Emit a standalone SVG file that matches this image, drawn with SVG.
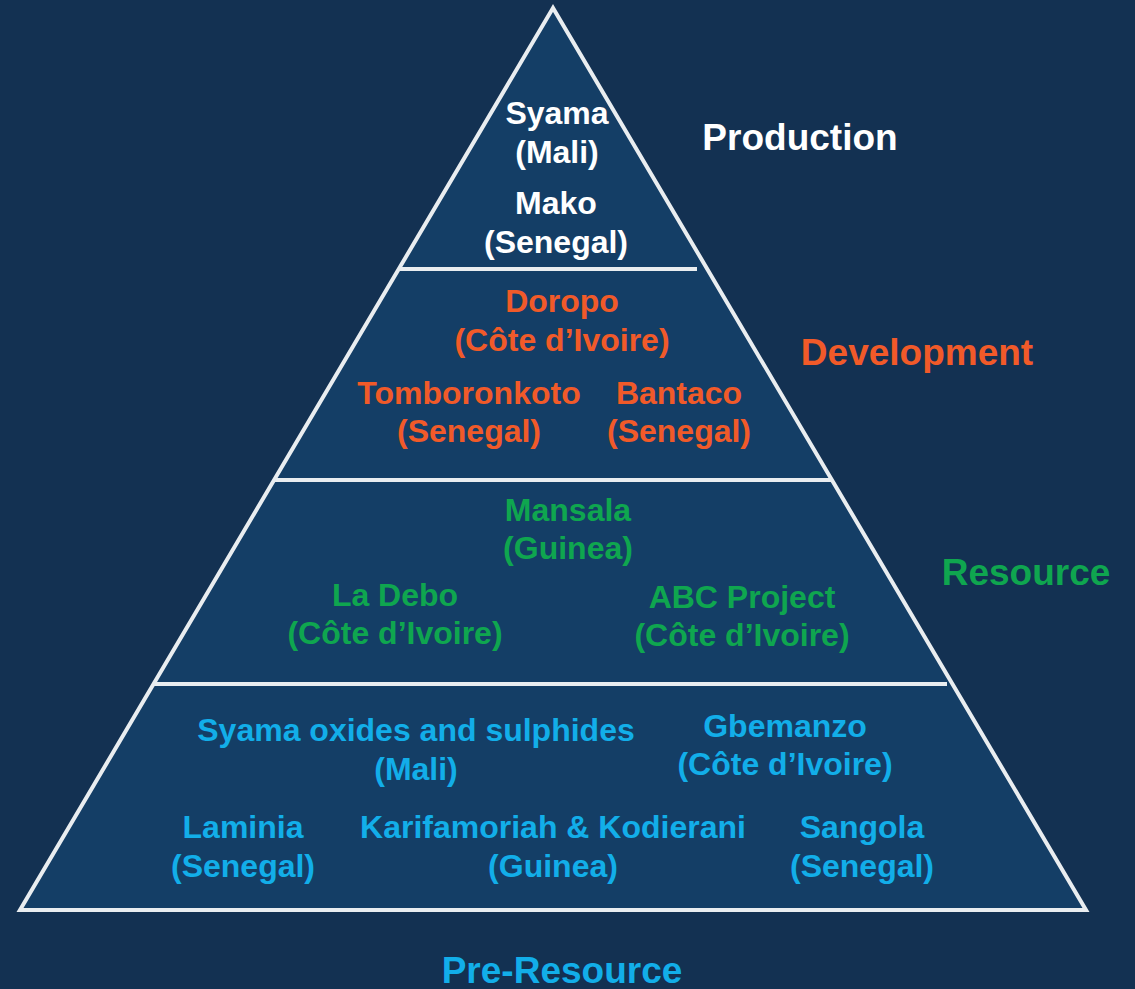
<svg xmlns="http://www.w3.org/2000/svg" width="1135" height="989" viewBox="0 0 1135 989">
<style>
text{font-family:"Liberation Sans",Arial,sans-serif;font-weight:bold;text-anchor:middle}
.t{font-size:32px}
.h{font-size:37px}
.w{fill:#ffffff}
.o{fill:#f15a29}
.g{fill:#0fa64f}
.c{fill:#12aee9}
.ln{stroke:#e9edf0;stroke-width:4;fill:none}
.py{stroke:#e9edf0;stroke-width:4;fill:#143e66}
</style>
<rect width="1135" height="989" fill="#133152"/>
<g id="pyramid">
<polygon class="py" points="553,8 20,910 1086,910"/>
</g>
<g id="dividers">
<line class="ln" x1="400" y1="269" x2="697" y2="269"/>
<line class="ln" x1="275" y1="480" x2="831" y2="480"/>
<line class="ln" x1="154" y1="684" x2="947" y2="684"/>
</g>
<g id="production">
<text class="t w" x="557" y="124">Syama</text>
<text class="t w" x="557" y="163">(Mali)</text>
<text class="t w" x="556" y="214">Mako</text>
<text class="t w" x="556" y="253">(Senegal)</text>
<text class="h w" x="800" y="150">Production</text>
</g>
<g id="development">
<text class="t o" x="562" y="312">Doropo</text>
<text class="t o" x="562" y="351">(Côte d’Ivoire)</text>
<text class="t o" x="469" y="404">Tomboronkoto</text>
<text class="t o" x="469" y="442">(Senegal)</text>
<text class="t o" x="679" y="404">Bantaco</text>
<text class="t o" x="679" y="442">(Senegal)</text>
<text class="h o" x="917" y="365">Development</text>
</g>
<g id="resource">
<text class="t g" x="568" y="521">Mansala</text>
<text class="t g" x="568" y="559">(Guinea)</text>
<text class="t g" x="395" y="606">La Debo</text>
<text class="t g" x="395" y="644">(Côte d’Ivoire)</text>
<text class="t g" x="742" y="608">ABC Project</text>
<text class="t g" x="742" y="646">(Côte d’Ivoire)</text>
<text class="h g" x="1026" y="585">Resource</text>
</g>
<g id="preresource">
<text class="t c" x="416" y="741">Syama oxides and sulphides</text>
<text class="t c" x="416" y="780">(Mali)</text>
<text class="t c" x="785" y="737">Gbemanzo</text>
<text class="t c" x="785" y="775">(Côte d’Ivoire)</text>
<text class="t c" x="243" y="838">Laminia</text>
<text class="t c" x="243" y="877">(Senegal)</text>
<text class="t c" x="553" y="838">Karifamoriah &amp; Kodierani</text>
<text class="t c" x="553" y="877">(Guinea)</text>
<text class="t c" x="862" y="838">Sangola</text>
<text class="t c" x="862" y="877">(Senegal)</text>
<text class="h c" x="562" y="983">Pre-Resource</text>
</g>
</svg>
